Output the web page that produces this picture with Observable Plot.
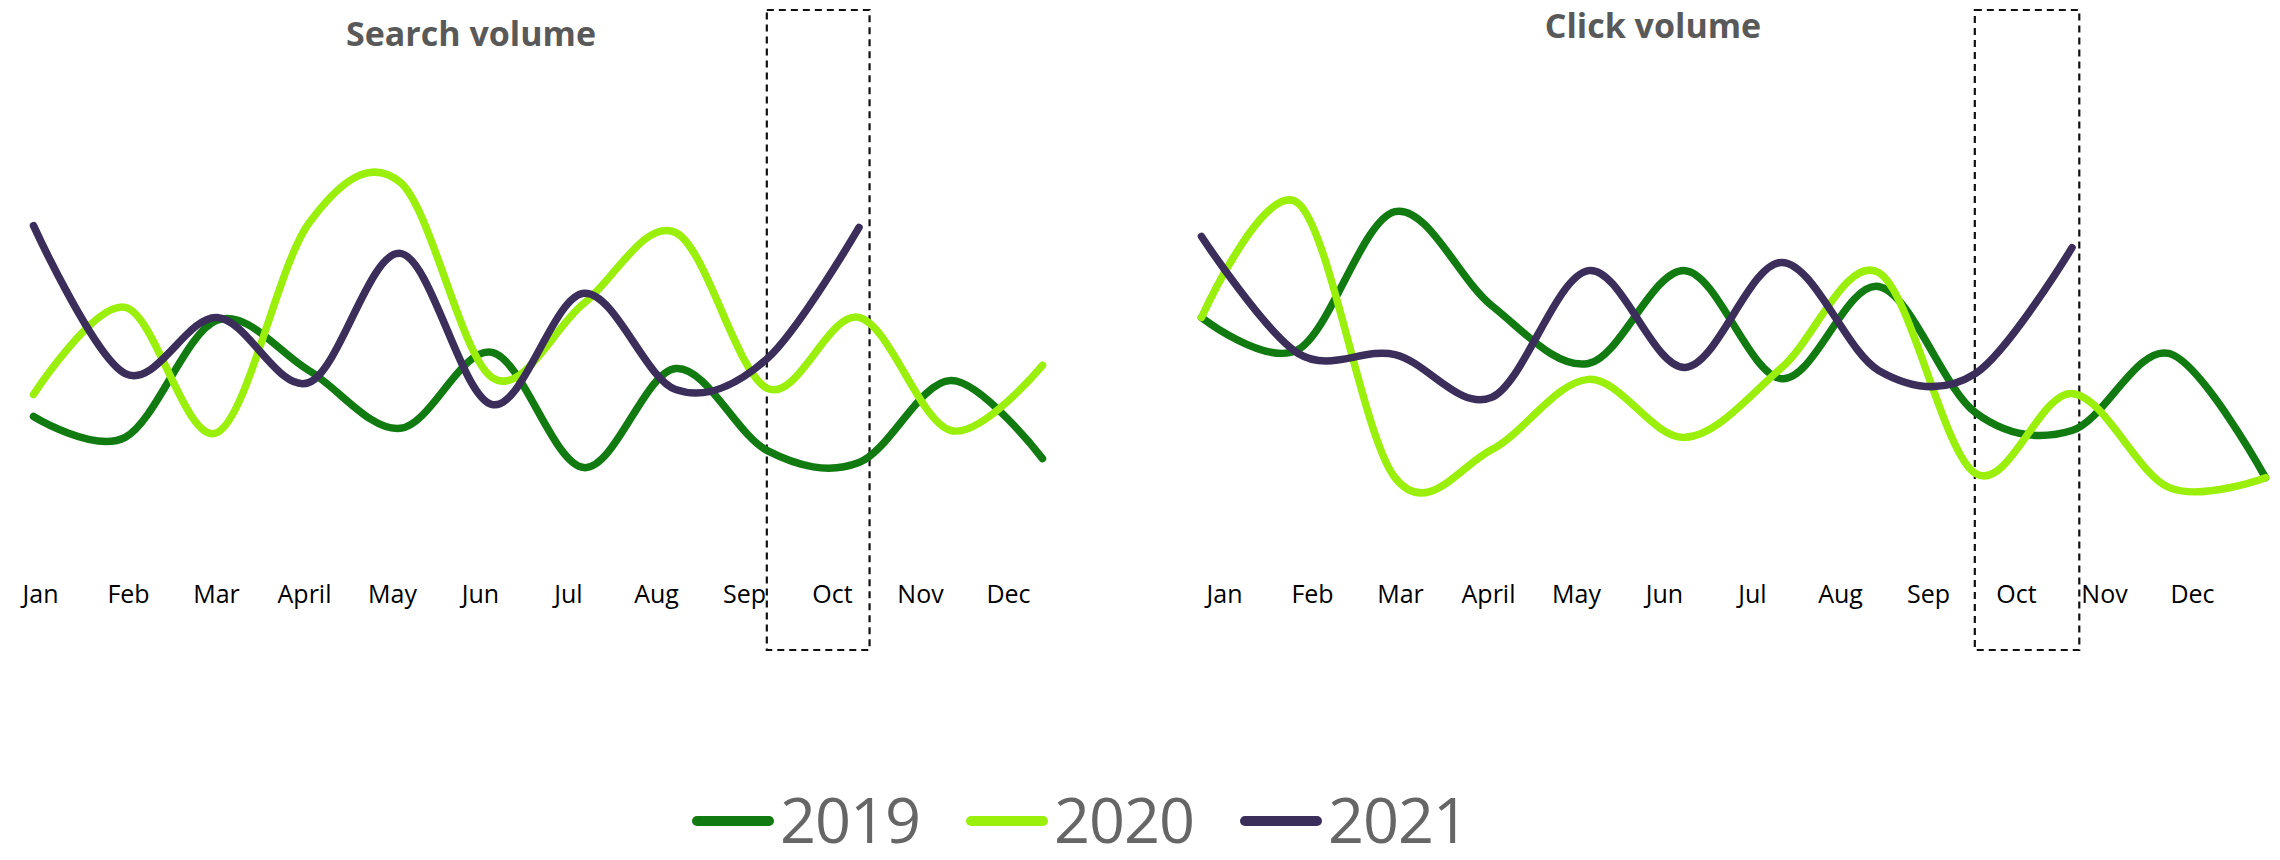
<!DOCTYPE html>
<html>
<head>
<meta charset="utf-8">
<script src="https://cdn.jsdelivr.net/npm/d3@7"></script>
<script src="https://cdn.jsdelivr.net/npm/@observablehq/plot@0.6"></script>
<style>
  html, body { margin: 0; padding: 0; background: #ffffff; }
  #root { position: relative; width: 2280px; height: 860px; overflow: hidden; font-family: "Open Sans", sans-serif; }
  .panel { position: absolute; top: 0; width: 1140px; height: 660px; }
  .panel svg { position: absolute; left: 0; }
  .title { position: absolute; font-weight: 700; font-size: 34px; line-height: 34px; color: #595959; white-space: nowrap; transform: translateX(-50%); }
  #legend { position: absolute; left: 692px; top: 792px; display: flex; align-items: center; }
  .item { display: flex; align-items: center; width: 274px; }
  .sw { width: 82px; height: 10px; border-radius: 5px; margin-right: 6px; margin-top: 4px; }
  .lab { font-size: 63px; line-height: 54px; letter-spacing: -1px; color: #666666; }
</style>
</head>
<body>
<div id="root">
  <div class="panel" id="left"></div>
  <div class="panel" id="right" style="left:1140px"></div>
  <div class="title" style="left:471px; top:16px">Search volume</div>
  <div class="title" style="left:1653px; top:8px">Click volume</div>
  <div id="legend"></div>
</div>
<script>
// ---- data ----
const months = ["Jan", "Feb", "Mar", "April", "May", "Jun", "Jul", "Aug", "Sep", "Oct", "Nov", "Dec"];
const years = ["2019", "2020", "2021"];
const colors = ["#117a11", "#9aef0b", "#3b2e5a"];

const search2019 = [28.9, 23.1, 55.6, 41.7, 25.6, 46.7, 14.7, 42.2, 19.4, 16.1, 38.9, 17.2];
const search2020 = [35.0, 59.2, 24.4, 82.5, 93.9, 39.7, 60.3, 80.0, 36.7, 56.4, 25.0, 43.1];
const search2021 = [81.9, 40.8, 56.4, 38.3, 74.2, 32.2, 63.1, 36.4, 45.0, 81.4];

const click2019 = [56.4, 47.5, 85.8, 59.7, 43.6, 69.4, 39.4, 65.0, 30.0, 25.0, 46.4, 11.9];
const click2020 = [56.4, 88.1, 11.9, 19.7, 39.2, 23.1, 42.5, 68.9, 13.1, 35.3, 9.2, 11.9];
const click2021 = [78.9, 46.4, 46.1, 34.2, 69.4, 42.5, 71.7, 41.7, 40.8, 75.8];

// ---- build tables ----
function table(seriesList) {
  const rows = [];
  seriesList.forEach((vals, k) => vals.forEach((v, i) => rows.push({year: years[k], i, month: months[i], v})));
  return rows;
}
const searchData = table([search2019, search2020, search2021]);
const clickData = table([click2019, click2020, click2021]);

function panel(el, data, opts) {
  const W = 1140, H = 660;
  const chart = Plot.plot({
    width: W, height: H,
    marginTop: 10, marginBottom: 10,
    marginLeft: opts.ml, marginRight: opts.mr,
    x: {type: "linear", domain: [0, 11], axis: null},
    y: {domain: [0, 100], range: [520, 160], axis: null},
    color: {domain: years, range: colors},
    style: {background: "transparent", overflow: "visible", fontFamily: "Open Sans"},
    marks: [
      Plot.rect([{from: 8, to: opts.boxEnd}], {x1: "from", x2: "to", fill: "none", stroke: "#111", strokeWidth: 2.2, strokeDasharray: "7,5"}),
      Plot.line(data, {x: "i", y: "v", z: "year", stroke: "year", curve: "cardinal", tension: 0, strokeWidth: 7.5, strokeLinecap: "round", strokeLinejoin: "round"})
    ]
  });
  chart.style.top = "0px";
  el.appendChild(chart);

  const axis = Plot.plot({
    width: W, height: 40, margin: 0,
    x: {type: "point", domain: months, range: opts.labelRange, padding: 0, axis: null},
    style: {background: "transparent", overflow: "visible", fontFamily: "Open Sans"},
    marks: [
      Plot.text(months, {x: d => d, text: d => d, fontSize: 25, fill: "#000"})
    ]
  });
  axis.style.top = "574px";
  el.appendChild(axis);
}

panel(document.getElementById("left"), searchData, {ml: 33, mr: 98, boxEnd: 9.12, labelRange: [35, 1012]});
panel(document.getElementById("right"), clickData, {ml: 61, mr: 15, boxEnd: 9.08, labelRange: [79, 1056]});

// ---- legend ----
const legend = document.getElementById("legend");
years.forEach((y, k) => {
  const it = document.createElement("div");
  it.className = "item";
  const sw = document.createElement("div");
  sw.className = "sw";
  sw.style.background = colors[k];
  const lab = document.createElement("span");
  lab.className = "lab";
  lab.textContent = y;
  it.appendChild(sw);
  it.appendChild(lab);
  legend.appendChild(it);
});
</script>
</body>
</html>
